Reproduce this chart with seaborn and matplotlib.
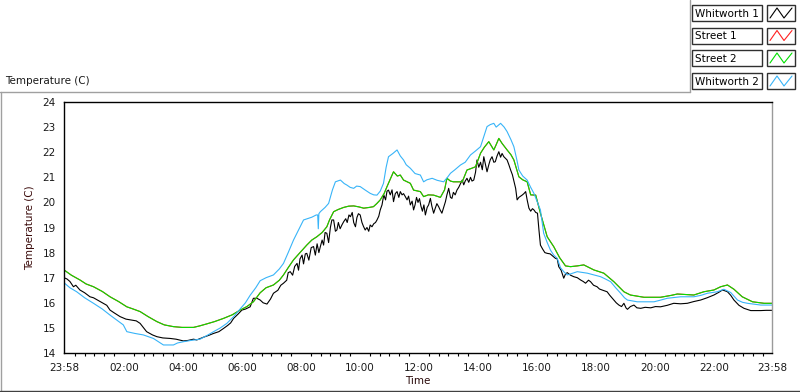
import numpy as np
import pandas as pd
import matplotlib
matplotlib.use("Agg")
import matplotlib.pyplot as plt
import seaborn as sns
from matplotlib.lines import Line2D
from matplotlib.patches import Rectangle

# hours counted from 23:58 (start of the record)
hours_whit1 = [
    0.0, 0.1, 0.2, 0.32, 0.4, 0.54, 0.7, 0.88, 1.0, 1.15, 1.33, 1.45, 1.56, 1.7, 1.9, 2.1,
    2.3, 2.45, 2.58, 2.7, 2.8, 3.0, 3.15, 3.35, 3.6, 3.8, 4.05, 4.2, 4.39, 4.5, 4.73, 4.9,
    5.07, 5.25, 5.41, 5.55, 5.65, 5.75, 5.9, 6.03, 6.15, 6.31, 6.42, 6.54, 6.65, 6.75, 6.88,
    7.0, 7.1, 7.25, 7.35, 7.44, 7.55, 7.6, 7.67, 7.75, 7.82, 7.9, 7.95, 8.0, 8.07, 8.12,
    8.18, 8.23, 8.3, 8.38, 8.46, 8.52, 8.58, 8.64, 8.69, 8.75, 8.8, 8.85, 8.91, 8.97, 9.03,
    9.08, 9.14, 9.2, 9.25, 9.3, 9.36, 9.42, 9.48, 9.55, 9.6, 9.66, 9.71, 9.77, 9.82, 9.88,
    9.93, 9.98, 10.04, 10.1, 10.15, 10.21, 10.27, 10.33, 10.38, 10.44, 10.5, 10.56, 10.61,
    10.67, 10.72, 10.78, 10.84, 10.9, 10.95, 11.0, 11.06, 11.12, 11.17, 11.23, 11.29, 11.35,
    11.4, 11.46, 11.51, 11.57, 11.63, 11.68, 11.74, 11.8, 11.85, 11.9, 11.95, 12.0, 12.05,
    12.1, 12.15, 12.2, 12.25, 12.31, 12.36, 12.42, 12.47, 12.53, 12.58, 12.64, 12.7, 12.75,
    12.81, 12.87, 12.93, 12.98, 13.04, 13.1, 13.15, 13.2, 13.26, 13.32, 13.38, 13.44, 13.5,
    13.55, 13.6, 13.66, 13.72, 13.78, 13.83, 13.89, 13.95, 14.0, 14.06, 14.12, 14.18, 14.23,
    14.28, 14.34, 14.4, 14.45, 14.51, 14.57, 14.62, 14.68, 14.74, 14.8, 14.85, 14.91, 14.97,
    15.02, 15.08, 15.14, 15.2, 15.25, 15.31, 15.36, 15.42, 15.48, 15.53, 15.59, 15.65, 15.7,
    15.76, 15.82, 15.88, 15.93, 15.99, 16.05, 16.1, 16.15, 16.22, 16.3, 16.38, 16.48, 16.58,
    16.66, 16.72, 16.77, 16.85, 16.94, 17.0, 17.06, 17.17, 17.28, 17.4, 17.51, 17.6, 17.68,
    17.78, 17.85, 17.95, 18.07, 18.15, 18.24, 18.41, 18.5, 18.64, 18.72, 18.81, 18.9, 18.98,
    19.05, 19.1, 19.2, 19.32, 19.42, 19.55, 19.7, 19.89, 20.05, 20.22, 20.45, 20.67, 20.9,
    21.13, 21.35, 21.58, 21.8, 22.03, 22.2, 22.32, 22.4, 22.49, 22.6, 22.71, 22.88, 23.05,
    23.28, 23.62, 23.8, 24.0,
]
temp_whit1 = [
    17.0, 16.95, 16.85, 16.64, 16.7, 16.51, 16.4, 16.24, 16.2, 16.1, 15.98, 15.9, 15.71, 15.6,
    15.45, 15.35, 15.31, 15.28, 15.18, 15.0, 14.85, 14.72, 14.65, 14.6, 14.58, 14.55, 14.48,
    14.5, 14.55, 14.52, 14.63, 14.7, 14.78, 14.85, 14.98, 15.1, 15.2, 15.38, 15.55, 15.71,
    15.75, 15.84, 16.18, 16.18, 16.11, 16.0, 15.95, 16.15, 16.38, 16.5, 16.7, 16.78, 16.9,
    17.2, 17.24, 17.1, 17.45, 17.57, 17.3, 17.75, 17.9, 17.55, 17.95, 17.97, 17.7, 18.2,
    18.24, 17.9, 18.35, 18.0, 18.24, 18.5, 18.3, 18.8, 18.77, 18.4, 19.0, 19.3, 19.3, 18.85,
    18.9, 19.2, 18.95, 19.1, 19.23, 19.35, 19.2, 19.5, 19.43, 19.6, 19.2, 19.03, 19.4, 19.55,
    19.5, 19.2, 19.05, 18.9, 19.0, 18.85, 19.1, 19.03, 19.15, 19.2, 19.3, 19.45, 19.7, 19.9,
    20.3, 20.1, 20.45, 20.49, 20.3, 20.5, 20.03, 20.35, 20.43, 20.2, 20.43, 20.3, 20.35,
    20.23, 20.1, 20.25, 19.9, 20.05, 19.7, 19.9, 20.2, 20.0, 20.15, 19.85, 19.65, 19.9, 19.5,
    19.8, 19.9, 20.16, 19.85, 19.57, 19.75, 19.95, 19.83, 19.7, 19.57, 19.8, 20.03, 20.3,
    20.56, 20.2, 20.16, 20.4, 20.3, 20.49, 20.6, 20.75, 20.89, 20.7, 20.85, 20.96, 20.8,
    21.0, 20.85, 20.89, 21.2, 21.69, 21.4, 21.6, 21.3, 21.82, 21.55, 21.22, 21.5, 21.7,
    21.82, 21.6, 21.62, 21.85, 22.02, 21.8, 21.95, 21.82, 21.75, 21.69, 21.5, 21.29, 21.1,
    20.85, 20.56, 20.1, 20.2, 20.25, 20.29, 20.35, 20.43, 20.1, 19.77, 19.65, 19.75, 19.7,
    19.6, 19.57, 18.9, 18.3, 18.15, 18.0, 17.97, 17.95, 17.85, 17.77, 17.75, 17.44, 17.3,
    16.98, 17.15, 17.2, 17.1, 17.04, 17.0, 16.91, 16.85, 16.78, 16.9, 16.84, 16.7, 16.64,
    16.55, 16.51, 16.44, 16.3, 16.11, 16.0, 15.91, 15.85, 15.98, 15.8, 15.74, 15.85, 15.91,
    15.8, 15.78, 15.82, 15.8, 15.85, 15.84, 15.9, 15.98, 15.96, 15.98, 16.05, 16.11, 16.2,
    16.31, 16.42, 16.51, 16.48, 16.44, 16.3, 16.11, 15.9, 15.78, 15.69, 15.69, 15.7, 15.7,
]

hours_street2 = [
    0.0, 0.25, 0.54, 0.75, 1.0, 1.3, 1.56, 1.85, 2.13, 2.35, 2.58, 2.85, 3.15, 3.4, 3.71,
    4.0, 4.39, 4.6, 4.84, 5.1, 5.41, 5.7, 5.97, 6.2, 6.42, 6.65, 6.85, 7.1, 7.3, 7.44, 7.6,
    7.78, 8.0, 8.23, 8.4, 8.57, 8.75, 8.91, 9.0, 9.14, 9.3, 9.48, 9.65, 9.82, 10.0, 10.16,
    10.35, 10.49, 10.6, 10.72, 10.85, 10.95, 11.05, 11.17, 11.3, 11.4, 11.51, 11.74, 11.85,
    12.08, 12.19, 12.35, 12.53, 12.76, 12.9, 12.98, 13.1, 13.2, 13.5, 13.66, 13.8, 13.95,
    14.12, 14.25, 14.4, 14.57, 14.65, 14.74, 14.85, 15.02, 15.15, 15.25, 15.42, 15.55, 15.7,
    15.82, 15.99, 16.15, 16.38, 16.6, 16.8, 16.94, 17.0, 17.17, 17.4, 17.62, 17.96, 18.3,
    18.64, 18.98, 19.2, 19.66, 20.22, 20.6, 20.79, 21.35, 21.69, 22.03, 22.26, 22.49, 22.71,
    22.99, 23.34, 23.73, 24.0,
]
temp_street2 = [
    17.31, 17.1, 16.91, 16.75, 16.64, 16.45, 16.24, 16.05, 15.84, 15.75, 15.65, 15.45, 15.25,
    15.12, 15.05, 15.02, 15.02, 15.08, 15.16, 15.25, 15.38, 15.52, 15.71, 15.85, 16.04, 16.4,
    16.6, 16.71, 16.9, 17.11, 17.4, 17.71, 18.0, 18.3, 18.5, 18.63, 18.8, 19.03, 19.3, 19.63,
    19.72, 19.8, 19.85, 19.86, 19.82, 19.77, 19.8, 19.83, 19.95, 20.1, 20.35, 20.63, 20.9,
    21.22, 21.05, 21.09, 20.89, 20.76, 20.49, 20.43, 20.23, 20.3, 20.29, 20.2, 20.5, 20.96,
    20.85, 20.82, 20.82, 21.29, 21.35, 21.42, 21.96, 22.2, 22.42, 22.09, 22.3, 22.55, 22.35,
    22.09, 21.9, 21.69, 21.02, 20.9, 20.82, 20.3, 20.29, 19.57, 18.63, 18.24, 17.8, 17.57,
    17.47, 17.44, 17.47, 17.51, 17.31, 17.18, 16.84, 16.44, 16.31, 16.22, 16.22, 16.3, 16.35,
    16.31, 16.44, 16.51, 16.64, 16.71, 16.54, 16.24, 16.04, 15.98, 15.98,
]

# Street 1 is hidden under Street 2 in the reference
hours_street1 = list(hours_street2)
temp_street1 = list(temp_street2)

hours_whit2 = [
    0.0, 0.2, 0.43, 0.7, 1.0, 1.3, 1.56, 1.8, 2.01, 2.13, 2.4, 2.69, 3.03, 3.2, 3.37, 3.71,
    3.85, 4.05, 4.3, 4.61, 4.85, 5.07, 5.3, 5.52, 5.75, 5.97, 6.15, 6.31, 6.5, 6.65, 6.85,
    7.1, 7.3, 7.44, 7.6, 7.78, 7.95, 8.12, 8.25, 8.4, 8.55, 8.6, 8.62, 8.64, 8.69, 8.85,
    8.97, 9.1, 9.2, 9.37, 9.5, 9.59, 9.7, 9.82, 9.92, 10.04, 10.2, 10.38, 10.5, 10.61, 10.72,
    10.83, 10.92, 11.0, 11.15, 11.29, 11.4, 11.51, 11.6, 11.74, 11.9, 12.08, 12.19, 12.3,
    12.48, 12.65, 12.87, 13.0, 13.1, 13.25, 13.44, 13.6, 13.78, 13.95, 14.12, 14.25, 14.34,
    14.45, 14.57, 14.65, 14.8, 14.92, 15.02, 15.15, 15.25, 15.35, 15.42, 15.55, 15.7, 15.82,
    15.93, 16.05, 16.15, 16.26, 16.38, 16.49, 16.6, 16.72, 16.83, 16.94, 17.06, 17.17, 17.4,
    17.74, 18.0, 18.19, 18.35, 18.53, 18.7, 18.87, 19.0, 19.1, 19.43, 20.0, 20.2, 20.45,
    20.9, 21.35, 21.6, 21.81, 22.15, 22.37, 22.6, 22.83, 23.0, 23.17, 23.62, 24.0,
]
temp_whit2 = [
    16.8, 16.6, 16.44, 16.2, 15.98, 15.75, 15.51, 15.3, 15.12, 14.85, 14.78, 14.72, 14.58,
    14.45, 14.32, 14.32, 14.4, 14.45, 14.5, 14.55, 14.7, 14.85, 15.0, 15.18, 15.45, 15.75,
    16.0, 16.3, 16.6, 16.88, 17.0, 17.11, 17.35, 17.57, 18.0, 18.5, 18.9, 19.3, 19.35, 19.41,
    19.5, 19.5, 18.95, 19.55, 19.63, 19.8, 19.96, 20.5, 20.82, 20.89, 20.75, 20.69, 20.6,
    20.56, 20.65, 20.63, 20.5, 20.36, 20.3, 20.29, 20.45, 20.76, 21.4, 21.82, 21.95, 22.09,
    21.85, 21.69, 21.5, 21.36, 21.15, 21.09, 20.82, 20.9, 20.96, 20.88, 20.82, 21.0, 21.16,
    21.3, 21.49, 21.6, 21.89, 22.05, 22.22, 22.7, 23.02, 23.1, 23.15, 23.0, 23.15, 23.0,
    22.82, 22.5, 22.22, 21.7, 21.29, 21.05, 20.89, 20.6, 20.36, 20.0, 19.7, 18.77, 18.4,
    18.1, 17.9, 17.77, 17.4, 17.24, 17.11, 17.15, 17.24, 17.18, 17.1, 17.04, 16.95, 16.84,
    16.6, 16.38, 16.2, 16.11, 16.04, 16.04, 16.1, 16.18, 16.24, 16.24, 16.3, 16.38, 16.44,
    16.54, 16.41, 16.11, 16.02, 15.98, 15.91, 15.91,
]

series_names = ["Whitworth 1", "Street 1", "Street 2", "Whitworth 2"]
series_colors = ["#000000", "#ff2020", "#00e000", "#38b4f8"]

tick_labels = ["23:58", "02:00", "04:00", "06:00", "08:00", "10:00", "12:00",
               "14:00", "16:00", "18:00", "20:00", "22:00", "23:58"]

# Build long-form table for seaborn
frames = []
for name, hrs, tmp in zip(series_names,
                          [hours_whit1, hours_street1, hours_street2, hours_whit2],
                          [temp_whit1, temp_street1, temp_street2, temp_whit2]):
    frames.append(pd.DataFrame({"hours": hrs, "temp": tmp, "series": name}))
df = pd.concat(frames, ignore_index=True)

sns.set_style("white")
plt.rcParams["font.family"] = ["DejaVu Sans"]

W, H = 800, 392
fig = plt.figure(figsize=(W / 100, H / 100), dpi=100)
ax = fig.add_axes([64 / W, 1 - 353 / H, 708 / W, 251 / H])

palette = dict(zip(series_names, series_colors))
sns.lineplot(data=df, x="hours", y="temp", hue="series", hue_order=series_names,
             palette=palette, estimator=None, sort=False, linewidth=0.8,
             legend=False, ax=ax)

ax.set_xlim(0, 24)
ax.set_ylim(14, 24)
ax.set_yticks(range(14, 25))
major = [0] + [2 / 60 + 2 * k for k in range(1, 12)] + [24]
ax.set_xticks(major)
ax.set_xticklabels(tick_labels)
minor = [m for m in np.arange(2 / 60, 24, 1 / 3) if min(abs(m - j) for j in major) > 0.1]
ax.set_xticks(minor, minor=True)
ax.tick_params(axis="both", which="major", labelsize=7.5, length=4, width=0.8,
               color="black", labelcolor="#1a1a1a", direction="out")
ax.tick_params(axis="x", which="minor", length=2.5, width=0.8, color="black",
               direction="out", bottom=True)
ax.tick_params(axis="x", pad=3)
ax.tick_params(axis="y", pad=2)

ax.set_xlabel("Time", fontsize=7.5, color="#2a0a0a", labelpad=2)
ax.set_ylabel("Temperature (C)", fontsize=7.5, color="#3a0a0a", labelpad=5)

for side in ["left", "bottom", "top"]:
    ax.spines[side].set_color("black")
    ax.spines[side].set_linewidth(1.0)
ax.spines["right"].set_color("#9a9a9a")
ax.spines["right"].set_linewidth(1.0)
ax.grid(False)

# overlay in pixel coords for frame, caption and legend
ov = fig.add_axes([0, 0, 1, 1], zorder=-1)
ov.set_xlim(0, W)
ov.set_ylim(H, 0)
ov.axis("off")
ov.add_line(Line2D([0.5, 0.5], [92, H], color="#a0a0a0", lw=1))
ov.add_line(Line2D([0, 690], [91.5, 91.5], color="#a0a0a0", lw=1))
ov.add_line(Line2D([690, 690], [0, 92], color="#a0a0a0", lw=1))
ov.add_line(Line2D([0, W], [390.5, 390.5], color="#404040", lw=1))
ov.text(5, 81, "Temperature (C)", fontsize=7.5, va="center", ha="left", color="#1a1a1a")

ov2 = fig.add_axes([0, 0, 1, 1], zorder=5)
ov2.set_xlim(0, W)
ov2.set_ylim(H, 0)
ov2.axis("off")
row_tops = [5, 27.5, 50, 73]
for name, col, top in zip(series_names, series_colors, row_tops):
    ov2.add_patch(Rectangle((692, top), 70, 16, facecolor="white",
                            edgecolor="#303030", lw=1))
    ov2.text(695, top + 8.5, name, fontsize=7.5, va="center", ha="left", color="black")
    ov2.add_patch(Rectangle((767, top), 28, 16, facecolor="white",
                            edgecolor="#303030", lw=1))
    ov2.add_line(Line2D([770, 777, 784, 792], [top + 13, top + 3, top + 13, top + 3],
                        color=col, lw=0.8))

fig.savefig("out.png", dpi=100)
